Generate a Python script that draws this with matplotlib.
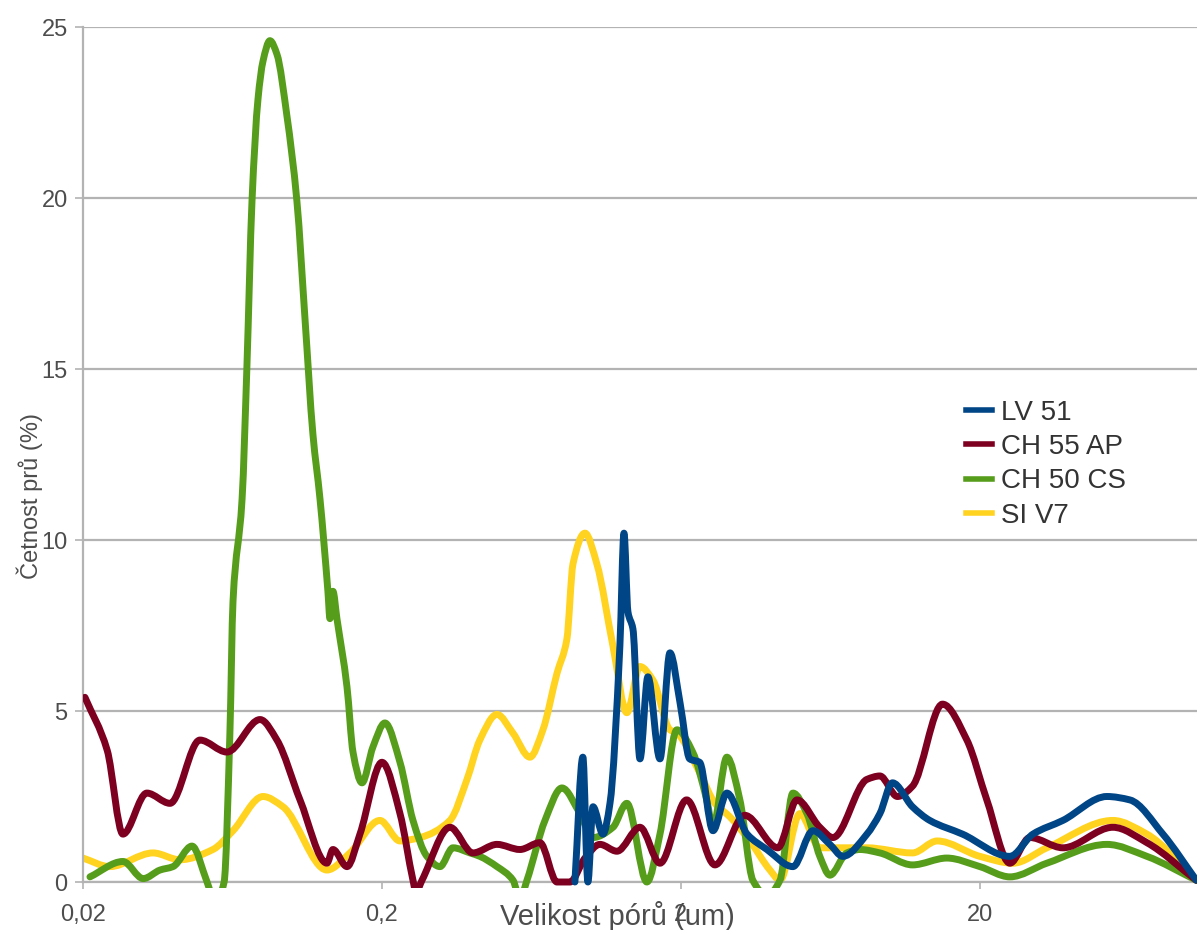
import matplotlib
matplotlib.use('Agg')
import numpy as np
import matplotlib.pyplot as plt
from matplotlib.ticker import FixedLocator, FixedFormatter, NullLocator
from matplotlib.patches import Rectangle, PathPatch
from matplotlib.path import Path
from matplotlib.lines import Line2D

plt.rcParams['font.family'] = ['Liberation Sans', 'DejaVu Sans']

# ---- data (pore size in um, frequency in %) ----
lv51_x = [0.884, 0.940, 0.977, 1.016, 1.097, 1.158, 1.250, 1.290, 1.330, 1.382, 1.459, 1.551,
          1.702, 1.838, 1.99, 2.14, 2.31, 2.56, 2.85, 3.33, 3.88, 4.74, 5.53, 6.30, 6.96, 8.38,
          9.26, 10.2, 11.9, 13.6, 17.5, 25.2, 30.1, 37.9, 53.2, 63.5, 81.9, 106]
lv51_y = [0.0, 3.65, 0.0, 2.2, 1.4, 2.3, 6.9, 10.2, 7.9, 7.4, 3.6, 6.0,
          3.6, 6.7, 5.2, 3.6, 3.5, 1.5, 2.6, 1.4, 0.95, 0.45, 1.5, 1.1, 0.75, 1.4,
          2.0, 2.9, 2.2, 1.8, 1.4, 0.75, 1.4, 1.8, 2.5, 2.4, 1.4, 0.05]

ch55_x = [0.0203, 0.0241, 0.0272, 0.0327, 0.0391, 0.0492, 0.0606, 0.0782, 0.0891, 0.1064,
          0.1309, 0.1371, 0.1528, 0.1688, 0.200, 0.2298, 0.254, 0.2598, 0.2722, 0.3376,
          0.403, 0.485, 0.579, 0.675, 0.770, 0.851, 0.955, 1.072, 1.222, 1.459, 1.702,
          2.09, 2.60, 3.27, 4.22, 4.89, 5.83, 6.45, 8.38, 9.26, 10.6, 11.9, 15.0, 18.1,
          21.1, 25.2, 29.4, 37.9, 55.7, 72.4, 106]
ch55_y = [5.4, 3.85, 1.4, 2.6, 2.3, 4.15, 3.8, 4.75, 4.15, 2.4,
          0.55, 0.95, 0.45, 1.4, 3.5, 2.0, 0.05, -0.3, 0.05, 1.6,
          0.85, 1.1, 0.95, 1.15, 0.0, 0.0, 0.7, 1.1, 0.9, 1.6, 0.55,
          2.4, 0.5, 1.95, 1.0, 2.4, 1.6, 1.3, 3.0, 3.1, 2.5, 2.8, 5.2, 4.15,
          2.4, 0.55, 1.3, 1.0, 1.6, 1.15, 0.05]

ch50_x = [0.0211, 0.0272, 0.0318, 0.0362, 0.040, 0.0463, 0.052, 0.0553, 0.0593, 0.062,
          0.0635, 0.0681, 0.0707, 0.0735, 0.077, 0.080, 0.0844, 0.0891, 0.0962, 0.1039,
          0.1105, 0.1175, 0.1241, 0.1319, 0.134, 0.1371, 0.1414, 0.1528, 0.160, 0.1715,
          0.1866, 0.2046, 0.2298, 0.254, 0.2828, 0.3126, 0.3456, 0.394, 0.425, 0.485,
          0.549, 0.579, 0.611, 0.702, 0.800, 0.919, 1.016, 1.185, 1.319, 1.539, 1.702,
          1.940, 2.19, 2.44, 2.56, 2.85, 3.15, 3.48, 3.88, 4.29, 4.74, 5.28, 5.83, 6.30,
          7.18, 7.94, 9.26, 11.9, 15.5, 20.0, 25.2, 33.5, 53.2, 72.4, 106]
ch50_y = [0.15, 0.6, 0.1, 0.35, 0.45, 1.05, 0.0, -0.6, 0.0, 4.35,
          8.2, 11.2, 15.1, 19.9, 22.9, 24.0, 24.6, 24.2, 22.4, 19.9,
          16.5, 13.1, 11.2, 8.5, 7.7, 8.5, 7.7, 5.7, 3.8, 2.9,
          3.95, 4.65, 3.5, 1.8, 0.75, 0.45, 1.0, 0.85, 0.75, 0.45,
          0.05, -0.5, 0.05, 1.8, 2.75, 2.0, 1.3, 1.6, 2.3, 0.0, 1.4,
          4.45, 3.8, 2.4, 1.6, 3.65, 2.4, 0.05, -0.4, 0.05, 2.6, 2.0, 0.75, 0.2,
          0.85, 0.95, 0.85, 0.5, 0.7, 0.45, 0.15, 0.55, 1.1, 0.75, 0.05]

siv7_x = [0.0200, 0.0246, 0.0343, 0.0422, 0.0544, 0.0635, 0.080, 0.0933, 0.1309, 0.1563,
          0.1969, 0.2298, 0.268, 0.3376, 0.385, 0.425, 0.485, 0.549, 0.625, 0.691, 0.770,
          0.831, 0.871, 0.955, 1.047, 1.185, 1.319, 1.459, 1.613, 1.838, 1.940, 2.31, 2.60,
          2.92, 3.40, 3.97, 4.29, 5.00, 5.83, 6.81, 8.38, 11.9, 14.4, 20.0, 25.8, 33.5,
          55.7, 72.4, 106]
siv7_y = [0.7, 0.45, 0.85, 0.65, 0.95, 1.5, 2.5, 2.2, 0.35, 0.85,
          1.8, 1.2, 1.3, 1.8, 3.0, 4.15, 4.9, 4.35, 3.65, 4.45, 6.1,
          7.1, 9.3, 10.2, 9.3, 6.9, 4.95, 6.3, 5.9, 4.45, 4.35, 3.2, 2.3,
          1.9, 1.2, 0.35, 0.05, 2.0, 1.0, 1.0, 1.0, 0.85, 1.2, 0.75, 0.55, 1.0,
          1.8, 1.4, 0.05]

series_names = ['LV 51', 'CH 55 AP', 'CH 50 CS', 'SI V7']
series_colors = ['#004586', '#7e0021', '#579d1c', '#ffd320']

x_ticks = [0.02, 0.2, 2, 20]
x_tick_labels = ['0,02', '0,2', '2', '20']
y_ticks = [0, 5, 10, 15, 20, 25]


def smooth_path(xs, ys):
    """Smooth (monotone cubic) curve through the points, as Bezier path segments."""
    lx = np.log10(np.asarray(xs, float))
    y = np.asarray(ys, float)
    n = len(lx)
    h = np.diff(lx)
    d = np.diff(y) / h
    m = np.zeros(n)
    m[0], m[-1] = d[0], d[-1]
    for k in range(1, n - 1):
        if d[k - 1] * d[k] <= 0:
            m[k] = 0.0
        else:
            w1 = 2 * h[k] + h[k - 1]
            w2 = h[k] + 2 * h[k - 1]
            m[k] = (w1 + w2) / (w1 / d[k - 1] + w2 / d[k])
    verts = [(xs[0], ys[0])]
    codes = [Path.MOVETO]
    for i in range(n - 1):
        c1 = (10 ** (lx[i] + h[i] / 3), y[i] + m[i] * h[i] / 3)
        c2 = (10 ** (lx[i + 1] - h[i] / 3), y[i + 1] - m[i + 1] * h[i] / 3)
        verts += [c1, c2, (xs[i + 1], ys[i + 1])]
        codes += [Path.CURVE4] * 3
    return Path(verts, codes)


# ---- figure ----
W, H = 1197, 930
fig = plt.figure(figsize=(W / 100, H / 100), dpi=100)
ax = fig.add_axes([83 / W, 1 - 882 / H, 1 - 83 / W, (882 - 27) / H])
ax.set_xscale('log')
ax.set_xlim(0.02, 106.5)
ax.set_ylim(0, 25)

grey = '#b3b3b3'
txt = '#4d4d4d'
ax.yaxis.grid(True, color=grey, lw=1.6)
ax.set_axisbelow(True)
for s in ['top', 'right']:
    ax.spines[s].set_visible(False)
ax.spines['left'].set_color(grey)
ax.spines['left'].set_linewidth(1.6)
ax.spines['bottom'].set_color(grey)
ax.spines['bottom'].set_linewidth(1.6)

ax.xaxis.set_major_locator(FixedLocator(x_ticks))
ax.xaxis.set_major_formatter(FixedFormatter(x_tick_labels))
ax.xaxis.set_minor_locator(NullLocator())
ax.yaxis.set_major_locator(FixedLocator(y_ticks))
ax.tick_params(axis='x', length=5, width=1.2, color=grey, labelsize=17, labelcolor=txt, pad=11)
ax.tick_params(axis='y', length=6, width=1.2, color=grey, labelsize=17, labelcolor=txt, pad=5)

clip = Rectangle((0, -0.007), 1, 1.05, transform=ax.transAxes, facecolor='none', edgecolor='none')
ax.add_patch(clip)

data = [(lv51_x, lv51_y), (ch55_x, ch55_y), (ch50_x, ch50_y), (siv7_x, siv7_y)]
zorders = [5, 4, 3, 2]
handles = []
for (xs, ys), name, col, z in zip(data, series_names, series_colors, zorders):
    patch = PathPatch(smooth_path(xs, ys), facecolor='none', edgecolor=col, lw=5,
                      zorder=z, joinstyle='round', capstyle='round')
    ax.add_patch(patch)
    patch.set_clip_path(clip)
    handles.append(Line2D([], [], color=col, lw=4, label=name))

ax.set_xlabel('Velikost pórů (um)', fontsize=21, color=txt)
ax.xaxis.set_label_coords(0.48, -0.022)
ax.set_ylabel('Četnost prů (%)', fontsize=17, color=txt)
ax.yaxis.set_label_coords(-0.036, 0.451)

leg = ax.legend(handles=handles, loc='upper left', bbox_to_anchor=(0.785, 0.574),
                frameon=True, fontsize=20, handlelength=0.95, handletextpad=0.3,
                labelspacing=0.3, borderpad=0.3, borderaxespad=0)
leg.get_frame().set_edgecolor('none')
leg.get_frame().set_facecolor('white')
for t in leg.get_texts():
    t.set_color('#333333')

fig.savefig('out.png', dpi=100)
